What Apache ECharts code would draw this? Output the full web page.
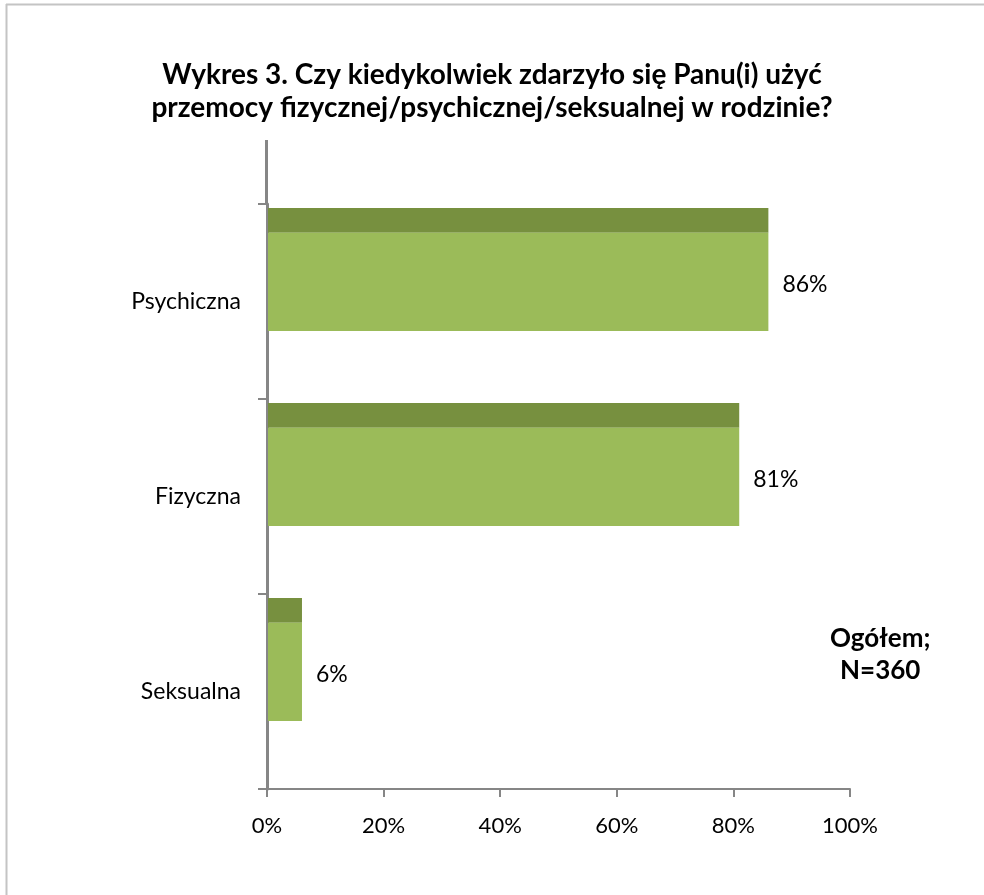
<!DOCTYPE html>
<html><head><meta charset="utf-8">
<script src="https://cdn.jsdelivr.net/npm/echarts@6/dist/echarts.min.js"></script>
<style>html,body{margin:0;padding:0;background:#fff}#c{width:984px;height:895px}</style>
</head><body><div id="c"></div>
<script>
const categories = ['Psychiczna', 'Fizyczna', 'Seksualna'];
const values = [86, 81, 6];
const xTicks = [0, 20, 40, 60, 80, 100];
const titleText = 'Wykres 3. Czy kiedykolwiek zdarzyło się Panu(i) użyć\nprzemocy fizycznej/psychicznej/seksualnej w rodzinie?';
const noteText = 'Ogółem;\nN=360';

const FONT = 'Lato, "Open Sans", sans-serif';
const AXIS = '#868686';
const chart = echarts.init(document.getElementById('c'), null, {renderer: 'canvas'});

chart.setOption({
  backgroundColor: '#fff',
  animation: false,
  title: {
    text: titleText, left: 'center', top: 53,
    textStyle: {fontFamily: FONT, fontSize: 28, fontWeight: 'bold', color: '#000', lineHeight: 33}
  },
  grid: {left: 267, right: 134, top: 204, bottom: 106},
  xAxis: {
    type: 'value', min: 0, max: 100, interval: 20,
    axisLine: {show: true, lineStyle: {color: AXIS, width: 2}},
    axisTick: {show: true, length: 8, lineStyle: {color: AXIS, width: 2}},
    splitLine: {show: false},
    axisLabel: {fontFamily: FONT, fontSize: 22, color: '#000', margin: 26,
      formatter: v => xTicks.includes(v) ? v + '%' : ''}
  },
  yAxis: {
    type: 'category', data: categories, inverse: true,
    axisLine: {show: true, lineStyle: {color: AXIS, width: 3}},
    axisTick: {show: true, length: 9, lineStyle: {color: AXIS, width: 2}},
    axisLabel: {fontFamily: FONT, fontSize: 23, color: '#000', margin: 26}
  },
  series: [{
    type: 'custom',
    data: values.map((v, i) => [v, i]),
    encode: {x: 0, y: 1},
    renderItem: function (params, api) {
      const v = api.value(0), i = api.value(1);
      const p0 = api.coord([0, i]);
      const p1 = api.coord([v, i]);
      const bh = api.size([0, 1])[1];
      const c = p0[1];
      const x0 = p0[0] + 1, w = p1[0] - p0[0] - 1;
      const topY = c - 0.48 * bh, topH = 0.128 * bh;
      const frontY = topY + topH, frontH = 0.503 * bh;
      return {type: 'group', children: [
        {type: 'rect', shape: {x: x0, y: topY, width: w, height: topH}, style: {fill: '#77903f'}},
        {type: 'rect', shape: {x: x0, y: frontY, width: w, height: frontH}, style: {fill: '#9bbb59'}},
        {type: 'text', style: {text: v + '%', x: p1[0] + 14, y: frontY + frontH / 2 + 3,
          textAlign: 'left', textVerticalAlign: 'middle', font: '23px ' + FONT, fill: '#000'}}
      ]};
    }
  }],
  graphic: [
    {type: 'line', shape: {x1: 266.5, y1: 140, x2: 266.5, y2: 205}, style: {stroke: AXIS, lineWidth: 3}},
    {type: 'line', shape: {x1: 6.5, y1: 4, x2: 6.5, y2: 895}, style: {stroke: '#c4c4c4', lineWidth: 2}},
    {type: 'line', shape: {x1: 6, y1: 4.5, x2: 984, y2: 4.5}, style: {stroke: '#c4c4c4', lineWidth: 2}},
    {type: 'text', left: 830, top: 623, style: {text: noteText, textAlign: 'center',
      font: 'bold 26px ' + FONT, fill: '#000', lineHeight: 32}}
  ]
});
</script></body></html>
